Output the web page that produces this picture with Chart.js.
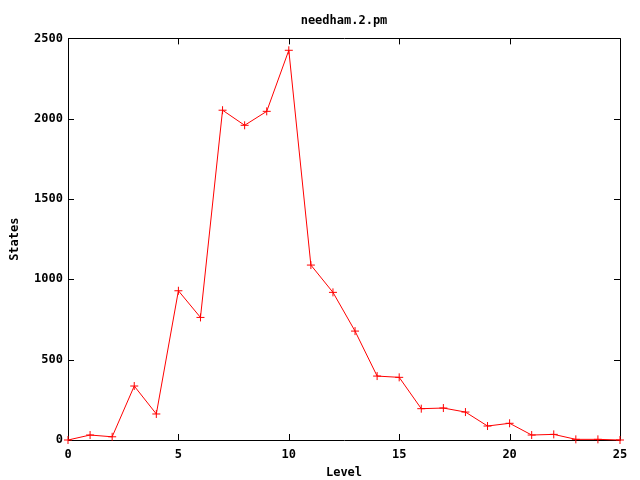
<!DOCTYPE html>
<html>
<head>
<meta charset="utf-8">
<script src="https://cdn.jsdelivr.net/npm/chart.js@4/dist/chart.umd.min.js"></script>
<style>
  html, body { margin: 0; padding: 0; background: #fff; }
  #wrap { width: 640px; height: 480px; }
</style>
</head>
<body>
<div id="wrap"><canvas id="c" width="640" height="480"></canvas></div>
<script>
const chartTitle = "needham.2.pm";
const xTitle = "Level";
const yTitle = "States";
const levels = [0,1,2,3,4,5,6,7,8,9,10,11,12,13,14,15,16,17,18,19,20,21,22,23,24,25];
const states = [0,31,20,336,162,929,763,2053,1959,2046,2426,1089,919,678,398,390,195,199,174,87,104,31,35,4,4,0];
const xTicks = [0,5,10,15,20,25];
const yTicks = [0,500,1000,1500,2000,2500];

const FONT = "'DejaVu Sans Mono', monospace";
const fontSpec = { family: FONT, size: 12, weight: 'bold', lineHeight: 1.2 };

const borderTicks = {
  id: 'borderTicks',
  beforeDatasetsDraw(chart) {
    const ctx = chart.ctx;
    const a = chart.chartArea;
    const xs = chart.scales.x, ys = chart.scales.y;
    const L = 6;
    ctx.save();
    ctx.strokeStyle = '#000';
    ctx.lineWidth = 1;
    ctx.beginPath();
    ctx.rect(Math.round(a.left) + 0.5, Math.round(a.top) + 0.5,
             Math.round(a.right - a.left), Math.round(a.bottom - a.top));
    xTicks.forEach(v => {
      const px = Math.round(xs.getPixelForValue(v)) + 0.5;
      ctx.moveTo(px, a.bottom); ctx.lineTo(px, a.bottom - L);
      ctx.moveTo(px, a.top); ctx.lineTo(px, a.top + L);
    });
    yTicks.forEach(v => {
      const py = Math.round(ys.getPixelForValue(v)) + 0.5;
      ctx.moveTo(a.left, py); ctx.lineTo(a.left + L, py);
      ctx.moveTo(a.right, py); ctx.lineTo(a.right - L, py);
    });
    ctx.stroke();
    ctx.restore();
  }
};

new Chart(document.getElementById('c'), {
  type: 'line',
  data: {
    datasets: [{
      label: 'States',
      data: levels.map((l, i) => ({ x: l, y: states[i] })),
      borderColor: '#ff0000',
      backgroundColor: '#ff0000',
      borderWidth: 1,
      tension: 0,
      pointStyle: 'cross',
      pointRadius: 4,
      pointBorderWidth: 1,
      pointBorderColor: '#ff0000',
      fill: false,
      clip: false
    }]
  },
  options: {
    responsive: false,
    animation: false,
    devicePixelRatio: 1,
    layout: { padding: { left: 0, right: 20, top: 0, bottom: 0 } },
    plugins: {
      legend: { display: false },
      tooltip: { enabled: false },
      title: {
        display: true,
        text: chartTitle,
        fullSize: false,
        color: '#000',
        font: fontSpec,
        padding: { top: 14, bottom: 10 }
      }
    },
    scales: {
      x: {
        type: 'linear',
        min: 0, max: 25,
        afterFit(s) { s.height = 40; },
        afterBuildTicks(s) { s.ticks = xTicks.map(v => ({ value: v })); },
        grid: { display: false, drawTicks: false },
        border: { display: false },
        ticks: { color: '#000', padding: 8, maxRotation: 0, font: fontSpec,
                 callback: v => String(v) },
        title: { display: true, text: xTitle, color: '#000', padding: { top: 0, bottom: 0 },
                 font: fontSpec }
      },
      y: {
        type: 'linear',
        min: 0, max: 2500,
        afterFit(s) { s.width = 68; },
        afterBuildTicks(s) { s.ticks = yTicks.map(v => ({ value: v })); },
        grid: { display: false, drawTicks: false },
        border: { display: false },
        ticks: { color: '#000', padding: 5, font: fontSpec, callback: v => String(v) },
        title: { display: true, text: yTitle, color: '#000', padding: { top: 8, bottom: 0 },
                 font: fontSpec }
      }
    }
  },
  plugins: [borderTicks]
});
</script>
</body>
</html>
